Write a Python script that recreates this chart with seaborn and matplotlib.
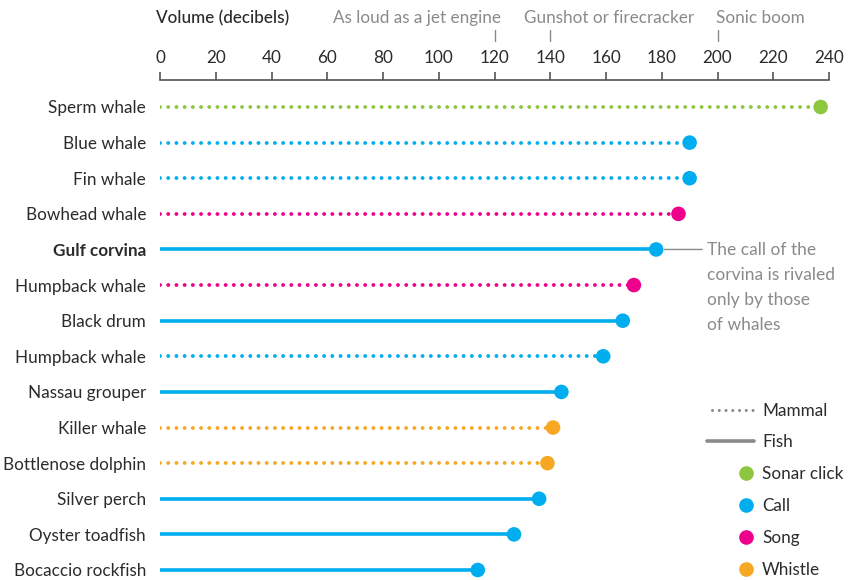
import matplotlib
matplotlib.use("Agg")
import matplotlib.pyplot as plt
import seaborn as sns
import pandas as pd
from matplotlib.lines import Line2D

species = ["Sperm whale", "Blue whale", "Fin whale", "Bowhead whale", "Gulf corvina",
           "Humpback whale", "Black drum", "Humpback whale", "Nassau grouper",
           "Killer whale", "Bottlenose dolphin", "Silver perch", "Oyster toadfish",
           "Bocaccio rockfish"]
decibels = [237, 190, 190, 186, 178, 170, 166, 159, 144, 141, 139, 136, 127, 114]
animal_type = ["Mammal", "Mammal", "Mammal", "Mammal", "Fish", "Mammal", "Fish", "Mammal",
               "Fish", "Mammal", "Mammal", "Fish", "Fish", "Fish"]
sound = ["Sonar click", "Call", "Call", "Song", "Call", "Song", "Call", "Call", "Call",
         "Whistle", "Whistle", "Call", "Call", "Call"]
x_ticks = [0, 20, 40, 60, 80, 100, 120, 140, 160, 180, 200, 220, 240]
ref_values = [120, 140, 200]
ref_labels = ["As loud as a jet engine", "Gunshot or firecracker", "Sonic boom"]

palette = {"Sonar click": "#8dc63f", "Call": "#00aeef", "Song": "#ec008c", "Whistle": "#f7a823"}
grey = "#8a8a8a"
dark = "#2b2b2b"

df = pd.DataFrame({"species": species, "db": decibels, "type": animal_type, "sound": sound})
df["row"] = range(len(df))

sns.set_theme(style="white")
plt.rcParams["font.family"] = ["Lato", "DejaVu Sans"]

W, H = 855, 580
fig = plt.figure(figsize=(W / 100, H / 100), dpi=100)
ax_left, ax_right = 160, 829
ax_top, ax_bottom = 80, 580
ax = fig.add_axes([ax_left / W, 1 - ax_bottom / H, (ax_right - ax_left) / W, (ax_bottom - ax_top) / H])

for _, r in df.iterrows():
    c = palette[r["sound"]]
    if r["type"] == "Mammal":
        ax.plot([0, r["db"]], [r["row"], r["row"]], color=c, lw=2.8,
                linestyle=(0, (0.01, 2.1)), dash_capstyle="round", solid_capstyle="round", zorder=2)
    else:
        ax.plot([0, r["db"]], [r["row"], r["row"]], color=c, lw=2.6, solid_capstyle="butt", zorder=2)

sns.scatterplot(data=df, x="db", y="row", hue="sound", palette=palette, s=110,
                edgecolor="none", legend=False, ax=ax, zorder=3)

row_px0, row_px1 = 107, 570
step = (row_px1 - row_px0) / 13
ax.set_ylim(13 + (ax_bottom - row_px1) / step, -(row_px0 - ax_top) / step)
ax.set_xlim(0, 240)

ax.set_yticks(df["row"])
ax.set_yticklabels(df["species"])
ax.tick_params(axis="y", length=0, pad=10, labelsize=12.3, labelcolor=dark)
for lab in ax.get_yticklabels():
    if lab.get_text() == "Gulf corvina":
        lab.set_fontweight("bold")

ax.xaxis.tick_top()
ax.set_xticks(x_ticks)
ax.set_xticklabels([str(t) for t in x_ticks])
ax.tick_params(axis="x", direction="out", length=6, width=1.2, color="#555555",
               labelsize=12.3, labelcolor=dark, pad=4, top=True, bottom=False)
for s in ["left", "right", "bottom"]:
    ax.spines[s].set_visible(False)
ax.spines["top"].set_color("#555555")
ax.spines["top"].set_linewidth(1.2)
ax.set_xlabel("")
ax.set_ylabel("")


def fx(px):
    return px / W


def fy(py):
    return 1 - py / H


fig.text(fx(156), fy(18), "Volume (decibels)", fontsize=12.3, color=dark, va="center", ha="left",
         fontweight="medium")
text_place = {120: (6, "right"), 140: (-26, "left"), 200: (-2, "left")}
for val, txt in zip(ref_values, ref_labels):
    xp = ax_left + val * (ax_right - ax_left) / 240
    off, ha = text_place[val]
    fig.text(fx(xp + off), fy(18), txt, fontsize=12.3, color=grey, va="center", ha=ha)
    fig.add_artist(Line2D([fx(xp), fx(xp)], [fy(30), fy(41)], color=grey, lw=1))

corv = df.loc[df["species"] == "Gulf corvina"].iloc[0]
ax.annotate("", xy=(corv["db"] + 2, corv["row"]), xytext=(195.5, corv["row"]),
            arrowprops=dict(arrowstyle="-", color=grey, lw=1))
fig.text(fx(707), fy(242), "The call of the\ncorvina is rivaled\nonly by those\nof whales",
         fontsize=12.5, color=grey, va="top", ha="left", linespacing=1.68)

# legend
fig.add_artist(Line2D([fx(712), fx(755)], [fy(410), fy(410)], color=grey, lw=2.2,
                      linestyle=(0, (0.01, 2.2)), dash_capstyle="round"))
fig.text(fx(762), fy(411), "Mammal", fontsize=12.3, color=dark, va="center")
fig.add_artist(Line2D([fx(707), fx(754)], [fy(441), fy(441)], color=grey, lw=2.6))
fig.text(fx(762), fy(442), "Fish", fontsize=12.3, color=dark, va="center")
for i, (name, col) in enumerate(palette.items()):
    yp = 473 + i * 32
    fig.add_artist(Line2D([fx(746)], [fy(yp)], marker="o", markersize=9.5, color=col, lw=0))
    fig.text(fx(762), fy(yp + 1), name, fontsize=12.3, color=dark, va="center")

fig.savefig("out.png", dpi=100)
